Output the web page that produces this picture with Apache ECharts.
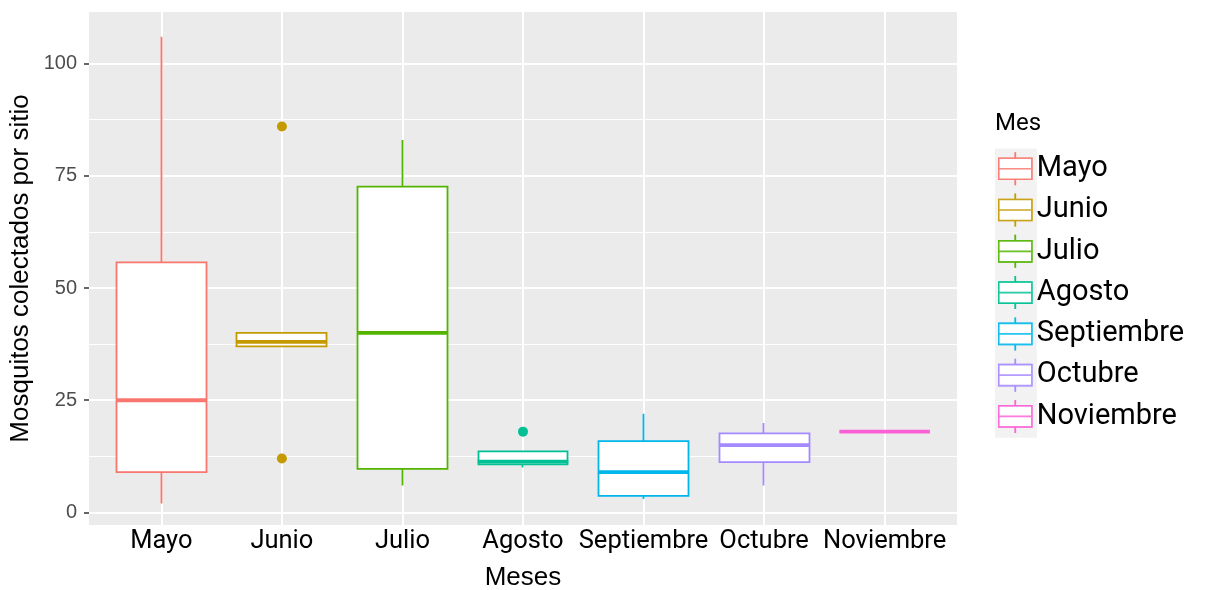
<!DOCTYPE html>
<html><head><meta charset="utf-8">
<script src="https://cdn.jsdelivr.net/npm/echarts@6/dist/echarts.min.js"></script>
<style>html,body{margin:0;padding:0;background:#fff}#c{width:1206px;height:590px}</style>
</head><body><div id="c"></div>
<script>
// ---- data ----
const months = ['Mayo','Junio','Julio','Agosto','Septiembre','Octubre','Noviembre'];
const colors = ['#F8766D','#C49A00','#53B400','#00C094','#00B6EB','#A58AFF','#FB61D7'];
const whiskerMin = [2, 37, 6, 10, 3, 6, 18];
const q1         = [9, 37, 9.7, 10.7, 3.7, 11.2, 18];
const median     = [25, 38, 40, 11.3, 9, 15, 18];
const q3         = [55.7, 40, 72.6, 13.6, 15.9, 17.6, 18];
const whiskerMax = [106, 40, 83, 13.6, 22, 19.9, 18];
const outlierMonth = ['Junio','Junio','Agosto'];
const outlierValue = [86, 12, 18];
const yTickStep = 25;
const yTickMax = 100;

// ---- layout ----
const P = {l: 89, r: 957, t: 12, b: 525};
const yLo = -2.8, yHi = 111.5;
const xExp = 0.6;
const n = months.length;
const pxPerY = (P.b - P.t) / (yHi - yLo);
const innerTop = P.t + (yHi - yTickMax) * pxPerY;
const innerBottom = P.b - (0 - yLo) * pxPerY;
const unit = (P.r - P.l) / (n - 1 + 2 * xExp);
const catL = P.l + (xExp - 0.5) * unit;
const catR = P.r - (xExp - 0.5) * unit;
const boxW = 0.75 * unit;
const lw = 1.8;

const keyPath = 'path://M0,6L33,6L33,27L0,27Z M0,16.5L33,16.5 M16.5,0L16.5,6 M16.5,27L16.5,33';
const legendData = months.map((m, i) => ({
  name: m, icon: keyPath,
  itemStyle: {color: '#fff', borderColor: colors[i], borderWidth: 1.6}
}));

const gridBase = {show: false, containLabel: false, outerBoundsMode: 'none'};
const chart = echarts.init(document.getElementById('c'), null, {renderer: 'canvas'});
chart.setOption({
  animation: false,
  backgroundColor: '#fff',
  title: {text: 'Mes', left: 995, top: 112, padding: 0,
    textStyle: {fontSize: 24, fontWeight: 'normal', fontFamily: 'Roboto', color: '#000'}},
  grid: [
    Object.assign({}, gridBase, {left: P.l, width: P.r - P.l, top: P.t, height: P.b - P.t, show: true,
     backgroundColor: '#EBEBEB', borderWidth: 0}),
    Object.assign({}, gridBase, {left: P.l, width: P.r - P.l, top: innerTop, height: innerBottom - innerTop}),
    Object.assign({}, gridBase, {left: catL, width: catR - catL, top: innerTop, height: innerBottom - innerTop})
  ],
  xAxis: [
    {gridIndex: 0, type: 'value', min: -xExp, max: n - 1 + xExp, minInterval: 1, maxInterval: 1,
     axisLine: {show: false}, axisTick: {show: false},
     splitLine: {show: true, showMinLine: false, showMaxLine: false, lineStyle: {color: '#fff', width: 2}},
     axisLabel: {show: true, showMinLabel: false, showMaxLabel: false, margin: 4, fontSize: 25.5,
       fontFamily: 'Roboto', color: '#000',
       formatter: v => (Math.abs(v - Math.round(v)) < 1e-6 && months[Math.round(v)]) ? months[Math.round(v)] : ''},
     name: 'Meses', nameLocation: 'middle', nameGap: 40,
     nameTextStyle: {fontSize: 26, fontFamily: 'Liberation Sans', color: '#000'}},
    {gridIndex: 1, type: 'value', min: 0, max: 1, show: false},
    {gridIndex: 2, type: 'category', data: months, show: false}
  ],
  yAxis: [
    {gridIndex: 0, type: 'value', min: yLo, max: yHi,
     axisLine: {show: false}, axisTick: {show: false}, axisLabel: {show: false}, splitLine: {show: false},
     name: 'Mosquitos colectados por sitio', nameLocation: 'middle', nameRotate: 90, nameGap: 55,
     nameTextStyle: {fontSize: 26, fontFamily: 'Liberation Sans', color: '#000'}},
    {gridIndex: 1, type: 'value', min: 0, max: yTickMax, interval: yTickStep,
     axisLine: {show: false},
     axisTick: {show: true, length: 5, lineStyle: {color: '#333', width: 1.5}},
     axisLabel: {margin: 12, fontSize: 20, color: '#4D4D4D', fontFamily: 'Liberation Sans'},
     splitLine: {show: true, lineStyle: {color: '#fff', width: 2}},
     minorTick: {show: false, splitNumber: 2},
     minorSplitLine: {show: true, lineStyle: {color: '#fff', width: 1}}},
    {gridIndex: 2, type: 'value', min: 0, max: yTickMax, show: false}
  ],
  legend: [
    {orient: 'vertical', left: 995, top: 148.5, padding: [3, 0, 4, 3], itemWidth: 33, itemHeight: 33,
     itemGap: 6.67, backgroundColor: '#F2F2F2', selectedMode: false, data: legendData,
     formatter: () => '', textStyle: {fontSize: 10, lineHeight: 33}},
    {orient: 'vertical', left: 998, top: 151.5, padding: 0, itemWidth: 33, itemHeight: 33,
     itemGap: 6.67, selectedMode: false, data: legendData,
     textStyle: {fontSize: 29, fontFamily: 'Roboto', color: '#000', lineHeight: 33}}
  ],
  series: [
    {type: 'candlestick', xAxisIndex: 2, yAxisIndex: 2, barWidth: boxW, clip: false, z: 3, silent: true,
     itemStyle: {borderWidth: lw},
     data: months.map((m, i) => ({
       value: [q1[i], q3[i], whiskerMin[i], whiskerMax[i]],
       itemStyle: {color: '#fff', color0: '#fff', borderColor: colors[i], borderColor0: colors[i],
                   borderColorDoji: colors[i], borderWidth: lw}
     }))},
    {type: 'scatter', xAxisIndex: 2, yAxisIndex: 2, symbol: 'rect', symbolSize: [boxW, 3.8],
     clip: false, z: 4, silent: true,
     data: months.map((m, i) => ({value: [m, median[i]], itemStyle: {color: colors[i], opacity: 1}}))},
    {type: 'scatter', xAxisIndex: 2, yAxisIndex: 2, symbol: 'circle', symbolSize: 10, clip: false, z: 5, silent: true,
     data: outlierMonth.map((m, k) => ({value: [m, outlierValue[k]],
       itemStyle: {color: colors[months.indexOf(m)], opacity: 1}}))}
  ].concat(months.map((m, i) => ({
    type: 'scatter', name: m, xAxisIndex: 2, yAxisIndex: 2, data: [], itemStyle: {color: colors[i]}
  })))
});
</script>
</body></html>
